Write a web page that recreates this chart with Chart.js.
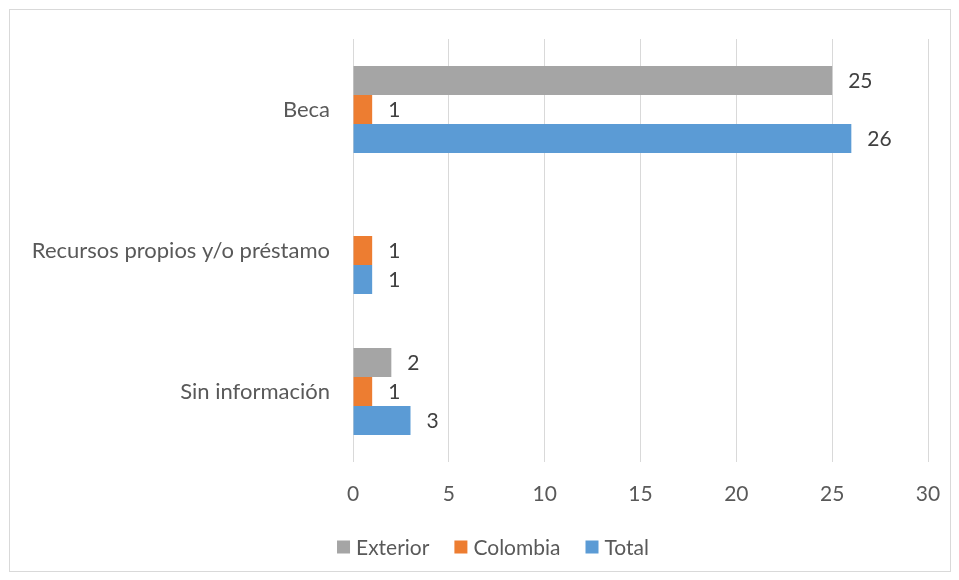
<!DOCTYPE html>
<html>
<head>
<meta charset="utf-8">
<script src="https://cdn.jsdelivr.net/npm/chart.js@4/dist/chart.umd.min.js"></script>
<style>
  body { margin: 0; background: #fff; }
  .wrap { position: relative; width: 959px; height: 580px; }
  .frame { position: absolute; left: 9px; top: 9px; width: 940px; height: 561px; border: 1px solid #d9d9d9; pointer-events: none; }
</style>
</head>
<body>
<div class="wrap">
  <canvas id="myChart"></canvas>
  <div class="frame"></div>
</div>
<script>
const categories = ["Beca", "Recursos propios y/o préstamo", "Sin información"];
const exterior = [25, null, 2];
const colombia = [1, 1, 1];
const total = [26, 1, 3];
const xTicks = [0, 5, 10, 15, 20, 25, 30];

const fontFamily = "Lato, 'Open Sans', sans-serif";
const fontSize = 21;

// value labels next to each bar end
const barLabels = {
  id: "barLabels",
  afterDatasetsDraw(chart) {
    const ctx = chart.ctx;
    ctx.save();
    ctx.font = fontSize + "px " + fontFamily;
    ctx.fillStyle = "#404040";
    ctx.textAlign = "left";
    ctx.textBaseline = "middle";
    chart.data.datasets.forEach((ds, i) => {
      const meta = chart.getDatasetMeta(i);
      meta.data.forEach((bar, j) => {
        const v = ds.data[j];
        if (v === null || v === undefined) return;
        ctx.fillText(String(v), bar.x + 16, bar.y + 1);
      });
    });
    ctx.restore();
  }
};

// legend drawn by hand so the spacing looks like the office one
const bottomLegend = {
  id: "bottomLegend",
  afterDraw(chart) {
    const ctx = chart.ctx;
    const box = 13, gap = 6, spacing = 25;
    const cx = 493, cy = 547;
    ctx.save();
    ctx.font = fontSize + "px " + fontFamily;
    ctx.textBaseline = "middle";
    ctx.textAlign = "left";
    const items = chart.data.datasets.map(ds => ({ text: ds.label, color: ds.backgroundColor, w: ctx.measureText(ds.label).width }));
    let totalW = 0;
    items.forEach((it, i) => { totalW += box + gap + it.w + (i < items.length - 1 ? spacing : 0); });
    let x = cx - totalW / 2;
    items.forEach(it => {
      ctx.fillStyle = it.color;
      ctx.fillRect(x, cy - box / 2, box, box);
      ctx.fillStyle = "#595959";
      ctx.fillText(it.text, x + box + gap, cy + 1);
      x += box + gap + it.w + spacing;
    });
    ctx.restore();
  }
};

const ctx = document.getElementById("myChart").getContext("2d");
const myChart = new Chart(ctx, {
  type: "bar",
  data: {
    labels: categories,
    datasets: [
      { label: "Exterior", data: exterior, backgroundColor: "#A5A5A5" },
      { label: "Colombia", data: colombia, backgroundColor: "#ED7D31" },
      { label: "Total", data: total, backgroundColor: "#5B9BD5" }
    ]
  },
  options: {
    indexAxis: "y",
    responsive: true,
    maintainAspectRatio: false,
    animation: false,
    categoryPercentage: 0.617,
    barPercentage: 1,
    layout: { padding: { left: 9, right: 31, top: 39, bottom: 64 } },
    scales: {
      x: {
        min: 0,
        max: 30,
        afterBuildTicks: (scale) => { scale.ticks = xTicks.map(v => ({ value: v })); },
        afterFit: (scale) => { scale.height = 54; },
        grid: { color: "#d9d9d9", lineWidth: 1, drawTicks: true, tickLength: 20, tickColor: "rgba(0,0,0,0)" },
        border: { display: false },
        ticks: { color: "#595959", padding: 0, font: { family: fontFamily, size: fontSize } }
      },
      y: {
        afterFit: (scale) => { scale.width = 344; },
        grid: { display: false, drawTicks: false },
        border: { display: false },
        ticks: { color: "#595959", padding: 23, font: { family: fontFamily, size: 22 } }
      }
    },
    plugins: {
      tooltip: { enabled: false },
      legend: { display: false }
    }
  },
  plugins: [barLabels, bottomLegend]
});
</script>
</body>
</html>
